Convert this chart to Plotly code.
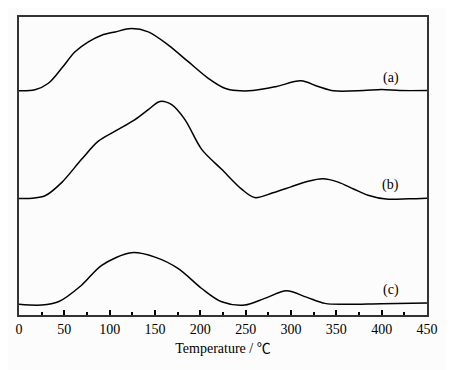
import plotly.graph_objects as go

# Temperature (°C) and signal (arbitrary units, curves stacked with offsets)
temp_a = [0, 17.6, 32.4, 47, 61.8, 76.5, 91.2, 106, 124, 142.6, 164.7, 186.7, 208.8, 227, 240, 258, 284, 311, 330, 347, 380, 400, 420, 450]
sig_a = [75.23, 75.57, 77.77, 82.77, 88.33, 91.67, 93.9, 95.0, 96.1, 95.0, 90.57, 85.0, 79.43, 76.1, 75.3, 75.3, 76.67, 78.57, 76.67, 75.23, 75.33, 75.67, 75.33, 75.33]

temp_b = [0, 15, 28.7, 47, 69, 87.5, 106, 128, 142.6, 155.5, 168.4, 183, 201.5, 223.5, 245.6, 260, 280, 300, 318, 335, 352, 369, 385, 405, 430, 450]
sig_b = [39.1, 39.2, 40.0, 44.43, 52.23, 58.33, 61.67, 65.57, 68.9, 71.67, 70.57, 65.57, 55.57, 48.9, 42.23, 39.4, 41.0, 43.0, 44.8, 45.7, 44.6, 42.3, 40.2, 38.9, 39.0, 39.2]

temp_c = [0, 25, 43.4, 69, 91.2, 124, 150, 175.7, 201.5, 223.5, 249, 271, 295, 317, 337.5, 359.5, 400, 450]
sig_c = [3.57, 3.33, 4.43, 10.0, 16.67, 20.9, 19.43, 15.57, 8.9, 4.43, 3.33, 5.57, 8.1, 6.0, 3.9, 3.57, 3.8, 4.0]

labels = ["(a)", "(b)", "(c)"]
label_x = [410, 410, 410]
label_y = [79.5, 43.5, 8.5]

x_ticks = [0, 50, 100, 150, 200, 250, 300, 350, 400, 450]

font_family = "Liberation Serif, Times New Roman, serif"

fig = go.Figure()
for tx, sy in [(temp_a, sig_a), (temp_b, sig_b), (temp_c, sig_c)]:
    fig.add_trace(go.Scatter(x=tx, y=sy, mode="lines",
                             line=dict(color="black", width=1.5, shape="spline", smoothing=0.9),
                             showlegend=False, hoverinfo="skip"))

for lab, lx, ly in zip(labels, label_x, label_y):
    fig.add_annotation(x=lx, y=ly, text=lab, showarrow=False,
                       font=dict(family=font_family, size=14, color="black"))

fig.update_layout(
    width=446, height=362,
    margin=dict(l=11, r=27, t=7, b=55),
    paper_bgcolor="#fcfcfc", plot_bgcolor="#fcfcfc",
    font=dict(family=font_family, size=14, color="black"),
    xaxis=dict(range=[0, 450], tickvals=x_ticks, ticks="inside", ticklen=5,
               tickwidth=1.5, tickcolor="black",
               minor=dict(dtick=25, ticks="inside", ticklen=3, tickwidth=1.5, tickcolor="black"),
               showgrid=False, zeroline=False, showline=True, linecolor="#333", linewidth=1.6,
               mirror=True,
               title=dict(text="Temperature / <span style='font-family:Noto Sans CJK SC'>℃</span>",
                          font=dict(size=14), standoff=1),
               tickfont=dict(size=14)),
    yaxis=dict(range=[0, 100], showticklabels=False, ticks="", showgrid=False,
               zeroline=False, showline=True, linecolor="#333", linewidth=1.6, mirror=True),
)

fig.write_html("out.html")
